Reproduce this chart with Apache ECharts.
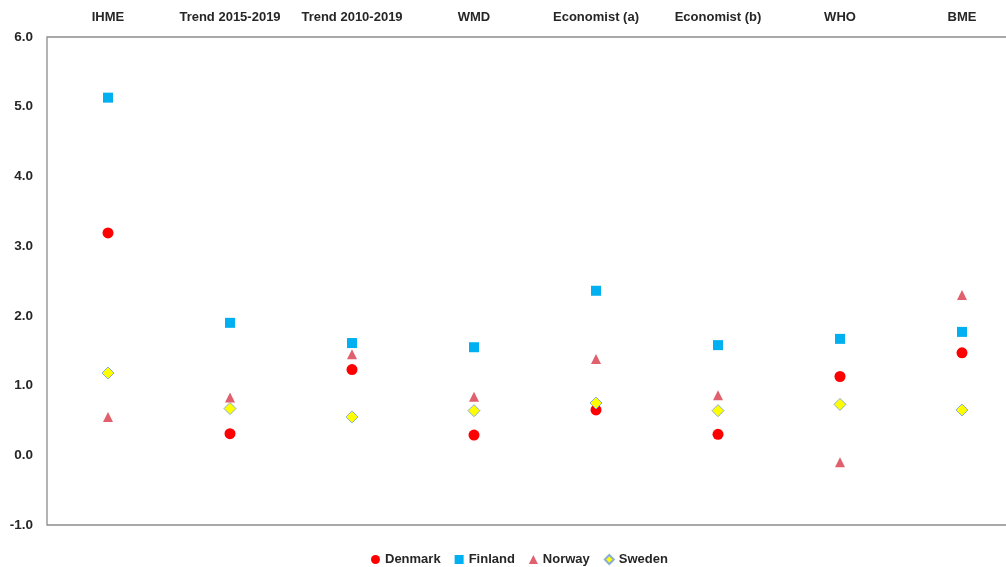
<!DOCTYPE html>
<html>
<head>
<meta charset="utf-8">
<script src="https://cdn.jsdelivr.net/npm/echarts@6/dist/echarts.min.js"></script>
<style>
  html, body { margin: 0; padding: 0; background: #ffffff; }
  #chart { width: 1006px; height: 567px; }
</style>
</head>
<body>
<div id="chart"></div>
<script>
// Sources of the excess-mortality estimates (one column each)
const categories = ['IHME', 'Trend 2015-2019', 'Trend 2010-2019', 'WMD',
                    'Economist (a)', 'Economist (b)', 'WHO', 'BME'];

// Values per country, in the same order as the categories
const denmark = [3.19, 0.31, 1.23, 0.29, 0.65, 0.30, 1.13, 1.47];
const finland = [5.13, 1.90, 1.61, 1.55, 2.36, 1.58, 1.67, 1.77];
const norway  = [0.55, 0.83, 1.45, 0.84, 1.38, 0.86, -0.10, 2.30];
const sweden  = [1.18, 0.67, 0.55, 0.64, 0.75, 0.64, 0.73, 0.65];

const yTicks = { min: -1, max: 6, step: 1 };

const FONT = '"Liberation Sans", Arial, sans-serif';
const TEXT = '#262626';

const chart = echarts.init(document.getElementById('chart'), null, { renderer: 'canvas' });

function seriesOf(name, data, symbol, size, style) {
  return {
    name: name,
    type: 'scatter',
    data: data,
    symbol: symbol,
    symbolSize: size,
    itemStyle: Object.assign({ opacity: 1 }, style),
    emphasis: { disabled: true }
  };
}

chart.setOption({
  animation: false,
  backgroundColor: '#ffffff',
  grid: {
    left: 47, top: 37, width: 976, height: 488,
    outerBoundsMode: 'none',
    show: true, borderColor: '#8c8c8c', borderWidth: 1.3
  },
  xAxis: {
    type: 'category',
    data: categories,
    position: 'top',
    boundaryGap: true,
    axisLine: { show: false },
    axisTick: { show: false },
    splitLine: { show: false },
    axisLabel: {
      margin: 13,
      color: TEXT,
      fontFamily: FONT,
      fontWeight: 'bold',
      fontSize: 13,
      interval: 0
    }
  },
  yAxis: {
    type: 'value',
    min: yTicks.min,
    max: yTicks.max,
    interval: yTicks.step,
    axisLine: { show: false },
    axisTick: { show: false },
    splitLine: { show: false },
    axisLabel: {
      margin: 14,
      color: TEXT,
      fontFamily: FONT,
      fontWeight: 'bold',
      fontSize: 13.5,
      formatter: v => v.toFixed(1)
    }
  },
  legend: {
    top: 548,
    left: 366,
    itemWidth: 9,
    itemHeight: 9,
    itemGap: 14,
    textStyle: { color: TEXT, fontFamily: FONT, fontWeight: 'bold', fontSize: 13 },
    data: ['Denmark', 'Finland', 'Norway', 'Sweden']
  },
  series: [
    seriesOf('Denmark', denmark, 'circle', 11, { color: '#ff0000' }),
    seriesOf('Finland', finland, 'rect', 10, { color: '#00b0f0' }),
    seriesOf('Norway', norway, 'triangle', 10, { color: '#e0606e' }),
    seriesOf('Sweden', sweden, 'diamond', 12, { color: '#ffff00', borderColor: '#8aaecb', borderWidth: 1 })
  ]
});
</script>
</body>
</html>
